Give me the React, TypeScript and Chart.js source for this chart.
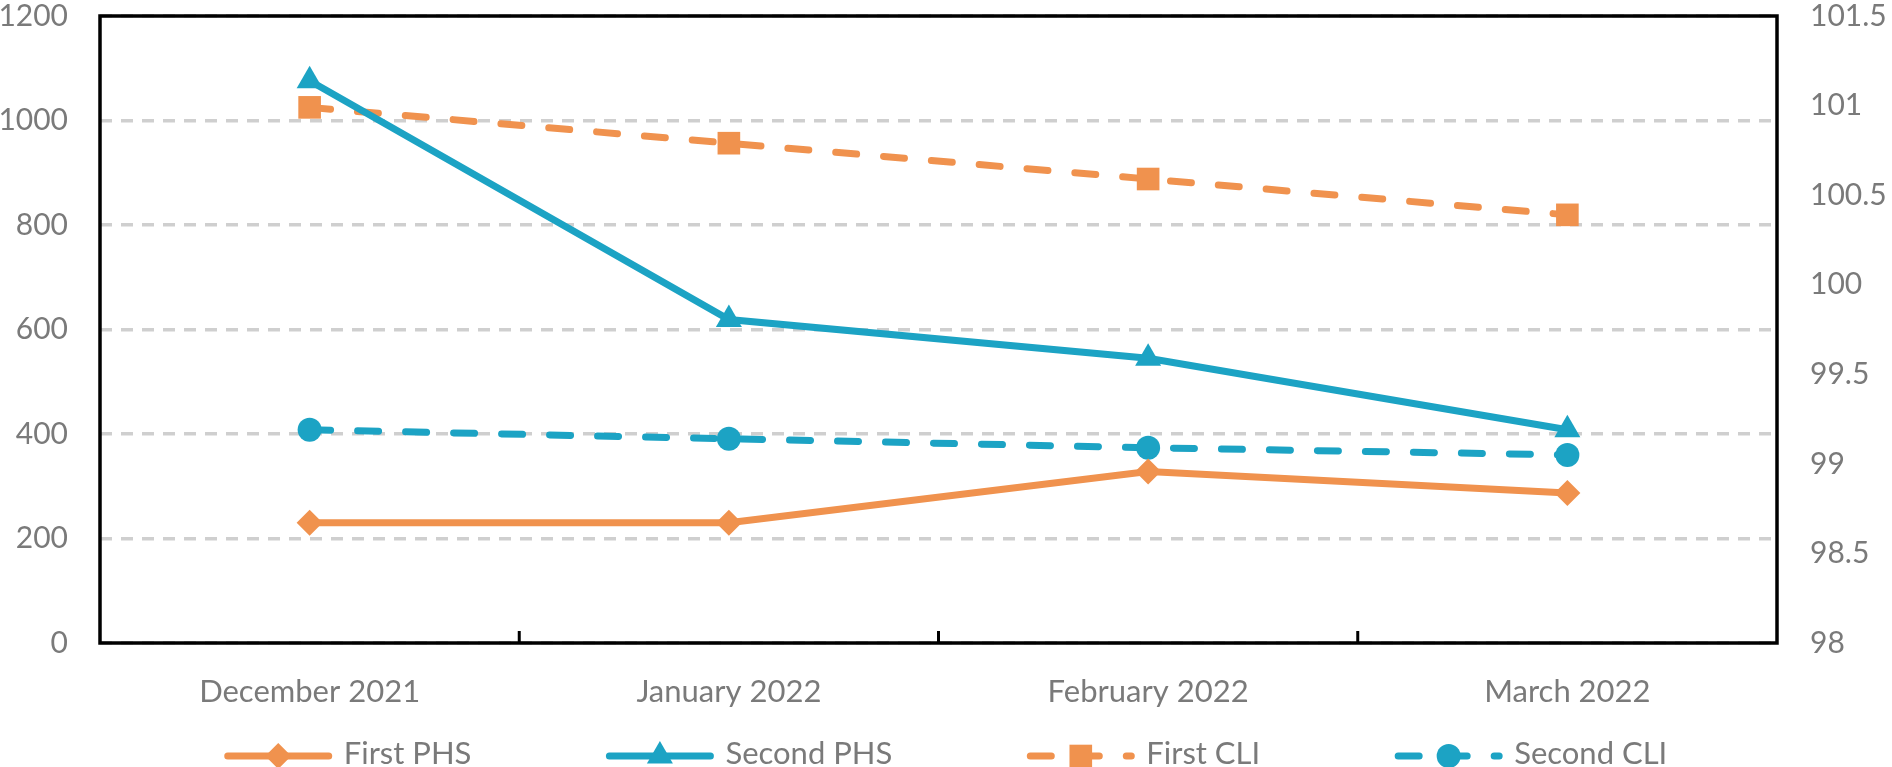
import { useEffect, useRef } from "react";
import { Chart, registerables } from "chart.js";
import { drawPoint } from "chart.js/helpers";

Chart.register(...registerables);

// values
const months = ["December 2021", "January 2022", "February 2022", "March 2022"];
const firstPhs = [230, 230, 328, 287];
const secondPhs = [1076, 619, 545, 408];
const firstCli = [100.99, 100.79, 100.59, 100.39];
const secondCli = [99.19, 99.14, 99.09, 99.05];
const leftTicks = [0, 200, 400, 600, 800, 1000, 1200];
const rightTicks = [98, 98.5, 99, 99.5, 100, 100.5, 101, 101.5];

const ORANGE = "#F0924E";
const BLUE = "#1CA3C4";
const GRAY = "#7A7A7A";
const FONT = "Lato";
const FONT_SIZE = 31;
const AXIS_FONT_SIZE = 30;

// black box round the plot + the short inner ticks between months
const framePlugin = {
  id: "frame",
  beforeDatasetsDraw(chart: any) {
    const { ctx, chartArea: a } = chart;
    const x = chart.scales.x;
    ctx.save();
    ctx.strokeStyle = "#000";
    ctx.lineWidth = 3.5;
    ctx.strokeRect(a.left, a.top, a.right - a.left, a.bottom - a.top);
    ctx.lineWidth = 3;
    for (let i = 0; i < months.length - 1; i++) {
      const px = (x.getPixelForValue(i) + x.getPixelForValue(i + 1)) / 2;
      ctx.beginPath();
      ctx.moveTo(px, a.bottom);
      ctx.lineTo(px, a.bottom - 12);
      ctx.stroke();
    }
    ctx.restore();
  },
};

// excel-like legend: line with marker in the middle, then the label
const legendPlugin = {
  id: "excelLegend",
  afterDraw(chart: any) {
    const { ctx, width } = chart;
    const sets = chart.data.datasets;
    const symW = 107, textGap = 12, itemGap = 135, lineY = 756, textY = 764;
    ctx.save();
    ctx.font = `${FONT_SIZE}px ${FONT}`;
    const widths = sets.map((d: any) => ctx.measureText(d.label).width);
    const total =
      widths.reduce((s: number, w: number) => s + symW + textGap + w, 0) +
      itemGap * (sets.length - 1);
    let x = (width - total) / 2;
    sets.forEach((ds: any, i: number) => {
      ctx.beginPath();
      ctx.setLineDash(ds.borderDash || []);
      ctx.lineCap = "round";
      ctx.lineWidth = ds.borderWidth;
      ctx.strokeStyle = ds.borderColor;
      ctx.moveTo(x + 3, lineY);
      ctx.lineTo(x + symW - 3, lineY);
      ctx.stroke();
      ctx.setLineDash([]);
      ctx.fillStyle = ds.backgroundColor;
      drawPoint(
        ctx,
        { pointStyle: ds.pointStyle, radius: ds.pointRadius, rotation: 0, borderWidth: 0 },
        x + symW / 2,
        lineY
      );
      ctx.fillStyle = GRAY;
      ctx.textBaseline = "alphabetic";
      ctx.textAlign = "left";
      ctx.fillText(ds.label, x + symW + textGap, textY);
      x += symW + textGap + widths[i] + itemGap;
    });
    ctx.restore();
  },
};

export default function App() {
  const canvasRef = useRef<HTMLCanvasElement>(null);

  useEffect(() => {
    document.body.style.margin = "0";
    if (!canvasRef.current) return;

    const chart = new Chart(canvasRef.current, {
      type: "line",
      data: {
        labels: months,
        datasets: [
          {
            label: "First PHS",
            data: firstPhs,
            yAxisID: "y",
            borderColor: ORANGE,
            backgroundColor: ORANGE,
            borderWidth: 7,
            pointStyle: "rectRot",
            pointRadius: 13,
            pointBorderWidth: 0,
          },
          {
            label: "Second PHS",
            data: secondPhs,
            yAxisID: "y",
            borderColor: BLUE,
            backgroundColor: BLUE,
            borderWidth: 7,
            pointStyle: "triangle",
            pointRadius: 15,
            pointBorderWidth: 0,
          },
          {
            label: "First CLI",
            data: firstCli,
            yAxisID: "y1",
            borderColor: ORANGE,
            backgroundColor: ORANGE,
            borderWidth: 7,
            borderDash: [21, 27],
            borderCapStyle: "round",
            pointStyle: "rect",
            pointRadius: 16,
            pointBorderWidth: 0,
          },
          {
            label: "Second CLI",
            data: secondCli,
            yAxisID: "y1",
            borderColor: BLUE,
            backgroundColor: BLUE,
            borderWidth: 7,
            borderDash: [21, 27],
            borderCapStyle: "round",
            pointStyle: "circle",
            pointRadius: 12,
            pointBorderWidth: 0,
          },
        ] as any,
      },
      options: {
        responsive: true,
        maintainAspectRatio: false,
        animation: false,
        layout: { padding: { top: 13, bottom: 49, left: 0, right: 0 } },
        plugins: { legend: { display: false }, tooltip: { enabled: false } },
        scales: {
          x: {
            offset: true,
            grid: { display: false },
            border: { display: false },
            ticks: {
              color: GRAY,
              font: { family: FONT, size: FONT_SIZE },
              padding: 22,
              maxRotation: 0,
            },
            afterFit: (s: any) => { s.height = 75; },
          },
          y: {
            position: "left",
            min: leftTicks[0],
            max: leftTicks[leftTicks.length - 1],
            afterBuildTicks: (s: any) => { s.ticks = leftTicks.map((v) => ({ value: v })); },
            grid: { color: "#CFCFCF", lineWidth: 3.5, drawTicks: false },
            border: { display: false, dash: [12, 9] },
            ticks: {
              color: GRAY,
              font: { family: FONT, size: AXIS_FONT_SIZE },
              padding: 32,
              callback: (v: any) => String(v),
            },
            afterFit: (s: any) => { s.width = 100; s.paddingTop = 0; s.paddingBottom = 0; },
          },
          y1: {
            position: "right",
            min: rightTicks[0],
            max: rightTicks[rightTicks.length - 1],
            afterBuildTicks: (s: any) => { s.ticks = rightTicks.map((v) => ({ value: v })); },
            grid: { display: false, drawOnChartArea: false },
            border: { display: false },
            ticks: {
              color: GRAY,
              font: { family: FONT, size: AXIS_FONT_SIZE },
              padding: 25,
              callback: (v: any) => String(v),
            },
            afterFit: (s: any) => { s.width = 115; s.paddingTop = 0; s.paddingBottom = 0; },
          },
        },
      },
      plugins: [framePlugin, legendPlugin],
    });

    return () => chart.destroy();
  }, []);

  return (
    <div style={{ width: 1892, height: 767, position: "relative", background: "#fff" }}>
      <canvas ref={canvasRef} />
    </div>
  );
}
